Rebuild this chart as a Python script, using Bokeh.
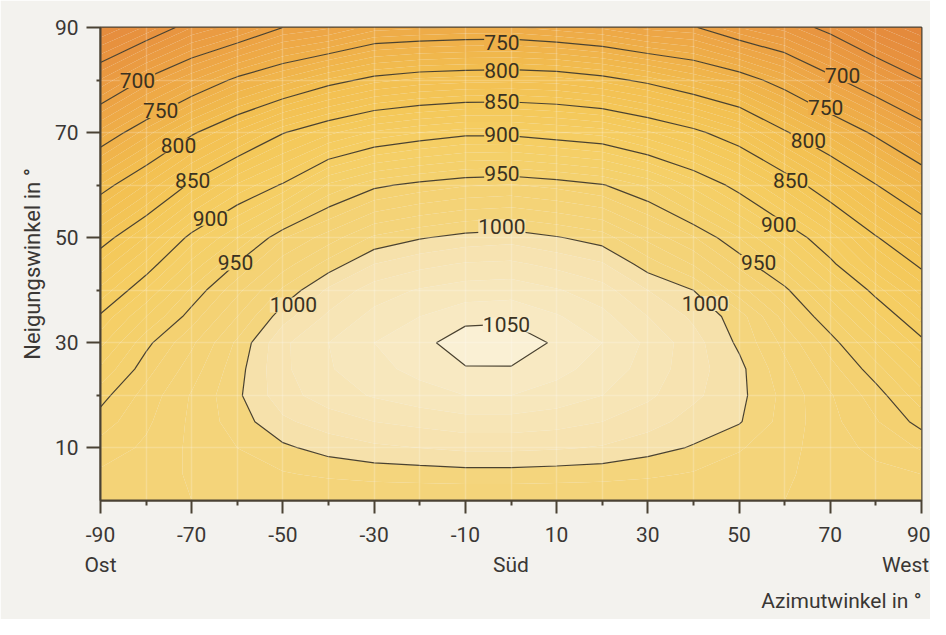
import numpy as np
from bokeh.plotting import figure
from bokeh.models import FixedTicker, LinearAxis, Title, Label, Range1d
from bokeh.embed import file_html
from bokeh.resources import INLINE

# ---------------- data ----------------
azimuth = [-90, -80, -70, -60, -50, -40, -30, -20, -10, 0, 10, 20, 30, 40, 50, 60, 70, 80, 90]
tilt = [0, 5, 10, 15, 20, 25, 30, 35, 40, 45, 50, 60, 70, 80, 90]

# annual irradiation (kWh/m²) for each tilt row, across the azimuth values
irr_tilt_0 = [980, 980, 980, 980, 980, 980, 980, 980, 980, 980, 980, 980, 980, 980, 980, 980, 980, 980, 980]
irr_tilt_5 = [972, 976, 981, 985, 989, 992, 994, 995, 996, 996, 995, 994, 992, 989, 985, 981, 977, 973, 970]
irr_tilt_10 = [964, 972, 982, 990, 998, 1004, 1008, 1010, 1012, 1012, 1011, 1009, 1004, 999, 991, 983, 975, 967, 959]
irr_tilt_15 = [955, 968, 982, 995, 1008, 1015, 1020, 1023, 1026, 1026, 1024, 1020, 1014, 1006, 1001, 986, 973, 961, 946]
irr_tilt_20 = [946, 964, 981, 998, 1016, 1025, 1031, 1036, 1040, 1040, 1036, 1030, 1022, 1012, 1003, 987, 971, 955, 934]
irr_tilt_25 = [932, 956, 975, 996, 1018, 1029, 1037, 1043, 1049, 1049, 1043, 1036, 1026, 1014, 1003, 983, 964, 944, 920]
irr_tilt_30 = [917, 947, 968, 992, 1018, 1030, 1040, 1046, 1057, 1058, 1048, 1040, 1028, 1014, 998, 977, 955, 930, 904]
irr_tilt_35 = [902, 930, 955, 980, 1006, 1022, 1033, 1040, 1046, 1047, 1041, 1033, 1020, 1008, 995, 966, 941, 913, 886]
irr_tilt_40 = [883, 911, 942, 967, 992, 1012, 1025, 1031, 1035, 1036, 1031, 1024, 1010, 1000, 974, 953, 924, 895, 866]
irr_tilt_45 = [863, 892, 923, 951, 975, 994, 1010, 1017, 1021, 1022, 1017, 1011, 995, 979, 957, 934, 904, 872, 846]
irr_tilt_50 = [841, 871, 905, 930, 959, 975, 992, 999, 1004, 1006, 1001, 995, 977, 961, 940, 914, 886, 852, 822]
irr_tilt_60 = [791, 821, 854, 882, 902, 932, 947, 954, 959, 961, 957, 951, 938, 917, 893, 865, 833, 801, 772]
irr_tilt_70 = [734, 765, 797, 823, 849, 867, 882, 890, 896, 896, 891, 886, 872, 856, 835, 803, 774, 745, 715]
irr_tilt_80 = [671, 703, 729, 755, 773, 792, 806, 813, 816, 817, 815, 807, 795, 779, 763, 738, 707, 679, 651]
irr_tilt_90 = [608, 632, 660, 677, 700, 708, 725, 728, 730, 731, 725, 718, 706, 702, 680, 665, 642, 612, 590]

contour_levels = [650, 700, 750, 800, 850, 900, 950, 1000, 1050]

x_tick_values = [-90, -70, -50, -30, -10, 10, 30, 50, 70, 90]
x_minor_values = [-80, -60, -40, -20, 0, 20, 40, 60, 80]
y_tick_values = [10, 30, 50, 70, 90]
y_minor_values = [20, 40, 60, 80]
direction_names = ["Ost", "Süd", "West"]
direction_pos = [-90, 0, 86.5]

# contour-label anchors (azimuth, tilt) and their level
label_values = [700, 750, 800, 850, 900, 950, 1000,
                750, 800, 850, 900, 950, 1000, 1050,
                700, 750, 800, 850, 900, 950, 1000]
label_az = [-81.9, -76.8, -72.9, -69.8, -65.9, -60.4, -47.7,
            -2.0, -2.0, -2.0, -2.0, -2.0, -2.0, -1.0,
            72.7, 69.0, 65.2, 61.3, 58.7, 54.3, 42.6]
label_tilt = [79.9, 74.2, 67.5, 60.9, 53.7, 45.2, 37.2,
              87.1, 81.8, 75.9, 69.6, 62.2, 52.1, 33.4,
              80.8, 74.8, 68.5, 60.8, 52.6, 45.3, 37.5]

# ---------------- styling ----------------
FONT = "Roboto"
TEXT = "#3a3734"
AXIS = "#4a4234"
LINE = "#4a4230"
PAPER = "#f3f2ee"

anchor_vals = [580, 650, 700, 750, 800, 850, 900, 950, 999, 1000, 1049, 1050, 1060]
anchor_cols = ["#e2843b", "#e8943f", "#eca244", "#efb049", "#f2be50", "#f4c758",
               "#f5ce63", "#f4d16f", "#f4d57e", "#f6e0a8", "#f8eac4", "#f9eecf", "#faf1d8"]


def hex2rgb(h):
    h = h.lstrip("#")
    return [int(h[i:i + 2], 16) for i in (0, 2, 4)]


anchor_rgb = np.array([hex2rgb(c) for c in anchor_cols], dtype=float)


def color_at(v):
    r, g, b = (np.interp(v, anchor_vals, anchor_rgb[:, k]) for k in range(3))
    return "#%02x%02x%02x" % (int(round(r)), int(round(g)), int(round(b)))


fill_levels = list(range(580, 1061, 10))
fill_palette = [color_at((a + b) / 2) for a, b in zip(fill_levels[:-1], fill_levels[1:])]

Z = np.array([irr_tilt_0, irr_tilt_5, irr_tilt_10, irr_tilt_15, irr_tilt_20, irr_tilt_25,
              irr_tilt_30, irr_tilt_35, irr_tilt_40, irr_tilt_45, irr_tilt_50,
              irr_tilt_60, irr_tilt_70, irr_tilt_80, irr_tilt_90], dtype=float)

p = figure(width=930, height=619, output_backend="svg", toolbar_location=None,
           x_range=Range1d(-90, 90), y_range=Range1d(0, 90),
           min_border_left=100, min_border_right=9, min_border_top=27, min_border_bottom=119)
p.background_fill_color = PAPER
p.border_fill_color = PAPER
p.outline_line_color = AXIS
p.outline_line_width = 2

p.contour(x=azimuth, y=tilt, z=Z, levels=fill_levels, fill_color=fill_palette, line_color=None)
p.contour(x=azimuth, y=tilt, z=Z, levels=contour_levels, fill_color=None,
          line_color=LINE, line_width=1.2)

for v, ax, ti in zip(label_values, label_az, label_tilt):
    p.add_layout(Label(x=ax, y=ti, text=str(v), text_align="center", text_baseline="middle",
                       text_font=FONT, text_font_size="21px", text_color="#3a3222",
                       background_fill_color=color_at(v), background_fill_alpha=1.0))

# grid (faint white lines every 10 degrees)
p.xgrid.ticker = FixedTicker(ticks=list(range(-80, 90, 10)))
p.ygrid.ticker = FixedTicker(ticks=list(range(10, 90, 10)))
for g in (p.xgrid, p.ygrid):
    g.grid_line_color = "white"
    g.grid_line_alpha = 0.2
    g.grid_line_width = 1.5
    g.level = "glyph"

xa = p.xaxis[0]
xa.ticker = FixedTicker(ticks=x_tick_values, minor_ticks=x_minor_values)
xa.major_label_overrides = {t: ("-%d" % -t if t < 0 else str(t)) for t in x_tick_values}
xa.major_tick_out = 13
xa.major_tick_in = 0
xa.minor_tick_out = 5
xa.minor_tick_in = 0
xa.major_label_standoff = 13

ya = p.yaxis[0]
ya.ticker = FixedTicker(ticks=y_tick_values, minor_ticks=y_minor_values)
ya.major_tick_out = 14
ya.major_tick_in = 0
ya.minor_tick_out = 4
ya.minor_tick_in = 0
ya.major_label_standoff = 8
ya.axis_label = "Neigungswinkel in °"
ya.axis_label_standoff = 7

for a in (xa, ya):
    a.axis_line_color = AXIS
    a.axis_line_width = 2
    a.major_tick_line_color = AXIS
    a.major_tick_line_width = 2
    a.minor_tick_line_color = AXIS
    a.minor_tick_line_width = 2
    a.major_label_text_font = FONT
    a.major_label_text_font_size = "21px"
    a.major_label_text_color = TEXT
    a.axis_label_text_font = FONT
    a.axis_label_text_font_size = "22px"
    a.axis_label_text_font_style = "normal"
    a.axis_label_text_color = TEXT

dir_axis = LinearAxis(ticker=FixedTicker(ticks=direction_pos),
                      major_label_overrides={t: n for t, n in zip(direction_pos, direction_names)},
                      axis_line_color=None, major_tick_line_color=None, minor_tick_line_color=None,
                      major_tick_out=0, major_label_standoff=8,
                      major_label_text_font=FONT, major_label_text_font_size="21px",
                      major_label_text_color=TEXT)
p.add_layout(dir_axis, "below")

p.add_layout(Title(text="Azimutwinkel in °", align="right", text_font=FONT,
                   text_font_size="21px", text_font_style="normal", text_color=TEXT,
                   standoff=14), "below")

open("out.html", "w").write(file_html(p, INLINE))
